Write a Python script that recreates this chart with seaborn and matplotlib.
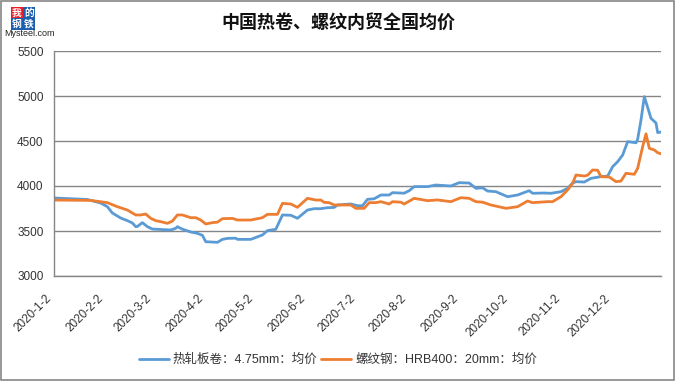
import pandas as pd
import matplotlib.pyplot as plt
from matplotlib.patches import Rectangle
import seaborn as sns

# ------------------------------
# data (yuan/ton)
# ------------------------------
hrc_name = "热轧板卷：4.75mm：均价"
rebar_name = "螺纹钢：HRB400：20mm：均价"

hrc_dates = [
    "1-2", "1-22", "1-30", "2-3", "2-6", "2-11", "2-15", "2-18", "2-20", "2-21",
    "2-24", "2-27", "3-1", "3-12", "3-15", "3-16", "3-19", "3-24", "3-28", "3-31",
    "4-2", "4-9", "4-12", "4-15", "4-20", "4-21", "4-29", "5-6", "5-9", "5-14",
    "5-18", "5-23", "5-27", "6-2", "6-6", "6-10", "6-14", "6-18", "6-20", "6-28",
    "7-2", "7-5", "7-8", "7-12", "7-16", "7-21", "7-23", "7-30", "8-2", "8-5",
    "8-13", "8-18", "8-27", "9-1", "9-7", "9-11", "9-15", "9-18", "9-23", "9-30",
    "10-6", "10-13", "10-15", "10-22", "10-26", "11-1", "11-5", "11-8", "11-10", "11-15",
    "11-19", "11-25", "11-29", "12-2", "12-5", "12-8", "12-11", "12-16", "12-17", "12-19",
    "12-21", "12-25", "12-28", "12-29", "12-31",
]
hrc_vals = [
    3867, 3850, 3811, 3770, 3700, 3644, 3615, 3589, 3548, 3550,
    3593, 3548, 3522, 3511, 3530, 3548, 3520, 3489, 3474, 3452,
    3381, 3374, 3407, 3418, 3420, 3407, 3407, 3456, 3504, 3519,
    3678, 3675, 3641, 3733, 3748, 3748, 3759, 3762, 3789, 3800,
    3781, 3781, 3852, 3858, 3900, 3900, 3926, 3920, 3948, 3993,
    3993, 4011, 4000, 4037, 4033, 3974, 3980, 3944, 3937, 3881,
    3900, 3948, 3919, 3922, 3919, 3937, 3974, 4033, 4048, 4044,
    4085, 4104, 4110, 4215, 4270, 4344, 4493, 4480, 4520, 4733,
    4993, 4752, 4700, 4593, 4600,
]

rebar_dates = [
    "1-2", "1-24", "2-3", "2-9", "2-15", "2-20", "2-23", "2-26", "2-29", "3-3",
    "3-6", "3-10", "3-13", "3-16", "3-19", "3-24", "3-27", "3-30", "4-2", "4-6",
    "4-9", "4-12", "4-18", "4-21", "4-29", "5-6", "5-9", "5-15", "5-18", "5-23",
    "5-27", "6-2", "6-7", "6-10", "6-12", "6-15", "6-18", "6-28", "7-1", "7-6",
    "7-9", "7-13", "7-16", "7-21", "7-23", "7-28", "7-30", "8-5", "8-13", "8-19",
    "8-27", "9-2", "9-7", "9-11", "9-15", "9-20", "9-29", "10-6", "10-12", "10-15",
    "10-24", "10-27", "11-1", "11-5", "11-8", "11-10", "11-15", "11-17", "11-20", "11-23",
    "11-25", "11-30", "12-4", "12-7", "12-10", "12-15", "12-17", "12-20", "12-22", "12-24",
    "12-27", "12-29", "12-31",
]
rebar_vals = [
    3844, 3840, 3815, 3770, 3733, 3678, 3678, 3689, 3641, 3615,
    3604, 3585, 3610, 3678, 3678, 3648, 3648, 3622, 3578, 3593,
    3598, 3637, 3640, 3622, 3622, 3648, 3685, 3685, 3807, 3800,
    3763, 3863, 3844, 3844, 3818, 3815, 3789, 3789, 3752, 3752,
    3815, 3815, 3826, 3800, 3826, 3820, 3800, 3863, 3837, 3845,
    3826, 3870, 3863, 3826, 3820, 3789, 3752, 3770, 3833, 3815,
    3826, 3826, 3881, 3956, 4030, 4122, 4111, 4120, 4178, 4175,
    4104, 4100, 4048, 4055, 4141, 4130, 4196, 4437, 4580, 4419,
    4400, 4370, 4358,
]

tick_labels = ["2020-1-2", "2020-2-2", "2020-3-2", "2020-4-2", "2020-5-2", "2020-6-2",
               "2020-7-2", "2020-8-2", "2020-9-2", "2020-10-2", "2020-11-2", "2020-12-2"]
y_ticks = [3000, 3500, 4000, 4500, 5000, 5500]

# ------------------------------
# long-form table for seaborn
# ------------------------------
df = pd.concat([
    pd.DataFrame({"date": pd.to_datetime(["2020-" + d for d in hrc_dates]),
                  "price": hrc_vals, "series": hrc_name}),
    pd.DataFrame({"date": pd.to_datetime(["2020-" + d for d in rebar_dates]),
                  "price": rebar_vals, "series": rebar_name}),
])

sns.set_style("white")
plt.rcParams["font.family"] = ["Liberation Sans", "Noto Sans CJK SC", "DejaVu Sans"]

fig = plt.figure(figsize=(6.76, 3.81), dpi=100)
ax = fig.add_axes([54 / 676, 1 - 276 / 381, 607 / 676, 225 / 381])

sns.lineplot(data=df, x="date", y="price", hue="series",
             palette={hrc_name: "#5B9BD5", rebar_name: "#ED7D31"},
             linewidth=2, ax=ax)

grid_c = "#868686"
ax.set_ylim(3000, 5500)
ax.set_yticks(y_ticks)
ax.set_xlim(pd.Timestamp("2020-01-02"), pd.Timestamp("2020-12-31"))
ax.set_xticks(pd.to_datetime(tick_labels))
ax.set_xticklabels(tick_labels, rotation=45, ha="right", fontsize=8.5, color="#333333")
ax.tick_params(axis="y", labelsize=8.5, colors="#333333", length=4, color=grid_c, width=1)
ax.tick_params(axis="x", length=4, color=grid_c, width=1, pad=8)
ax.yaxis.grid(True, color=grid_c, linewidth=1)
ax.set_axisbelow(True)
for s in ["top", "right"]:
    ax.spines[s].set_visible(False)
for s in ["left", "bottom"]:
    ax.spines[s].set_color(grid_c)
    ax.spines[s].set_linewidth(1)
ax.set_xlabel("")
ax.set_ylabel("")

leg = ax.legend(loc="center", bbox_to_anchor=(0.5, 0.055), bbox_transform=fig.transFigure,
                ncol=2, frameon=False, fontsize=9, handlelength=2.4,
                columnspacing=0.3, handletextpad=0.3)
for t in leg.get_texts():
    t.set_color("#333333")

fig.text(0.5, 1 - 22 / 381, "中国热卷、螺纹内贸全国均价", ha="center", va="center",
         fontsize=13, fontweight="bold", family=["Noto Sans CJK SC"], color="#111111")

# Mysteel logo in the corner
for ch, x, y, c in [("我", 17, 13, "#E8202A"), ("的", 29, 13, "#1C5FAE"),
                    ("钢", 17, 24, "#1C5FAE"), ("铁", 29, 24, "#1C5FAE")]:
    fig.text(x / 676, 1 - y / 381, ch, ha="center", va="center", fontsize=7,
             color="white", fontweight="bold", family=["Noto Sans CJK SC"],
             bbox=dict(boxstyle="square,pad=0.08", fc=c, ec="none"))
fig.text(4 / 676, 1 - 34 / 381, "Mysteel.com", ha="left", va="center", fontsize=6.5,
         color="#222222")

fig.patches.append(Rectangle((0.001, 0.002), 0.996, 0.995, transform=fig.transFigure,
                             fill=False, ec=grid_c, lw=1.2))

fig.savefig("out.png", dpi=100)
